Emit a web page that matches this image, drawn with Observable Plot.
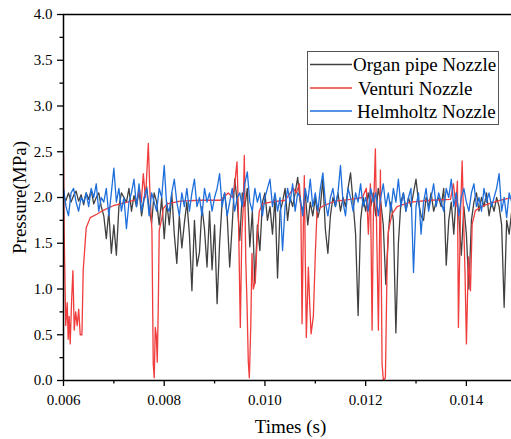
<!DOCTYPE html>
<html>
<head>
<meta charset="utf-8">
<script src="https://cdn.jsdelivr.net/npm/d3@7"></script>
<script src="https://cdn.jsdelivr.net/npm/@observablehq/plot@0.6"></script>
<style>
  html, body { margin: 0; padding: 0; background: #fff; }
</style>
</head>
<body>
<div id="chart"></div>
<script>
// ---- data ----
const seriesNames = ["Organ pipe Nozzle", "Venturi Nozzle", "Helmholtz Nozzle"];
const seriesColors = ["#404040", "#f03c3c", "#1e6fdc"];

const sampleStart = 0.006;   // s
const sampleStep = 0.00005;  // s

const organValues = [
  2.0,1.97,2.05,1.95,2.02,2.07,1.96,2.03,1.92,2.05,1.98,2.08,1.93,2.0,2.05,1.9,
  1.8,1.55,1.85,1.39,1.7,1.37,1.9,2.05,
  2.0,1.95,2.1,1.85,2.02,1.9,2.08,1.8,1.98,2.12,1.88,1.72,2.05,1.95,1.7,2.0,
  1.55,1.95,1.7,2.05,1.6,1.28,1.8,1.45,
  1.72,1.95,1.6,0.98,1.75,1.25,1.4,1.9,1.65,1.24,1.85,1.21,1.7,0.84,1.5,1.95,
  2.05,1.8,1.24,1.7,2.2,1.95,1.53,2.05,1.9,2.1,1.46,1.85,
  1.06,1.7,1.42,1.95,2.05,1.75,1.9,1.6,2.0,1.12,1.85,1.95,2.1,1.75,2.0,
  1.9,2.05,2.22,1.95,1.85,2.05,1.7,1.95,1.8,2.0,1.78,1.9,2.2,
  1.65,1.39,1.8,2.0,1.9,2.05,1.85,
  2.0,1.9,2.1,2.27,1.95,1.6,0.71,1.75,2.0,1.85,2.05,
  1.9,2.05,1.8,2.1,1.95,1.7,1.05,1.6,1.95,1.75,0.52,1.5,
  1.95,2.05,1.85,2.0,1.9,2.05,2.2,1.95,1.8,1.75,2.0,1.9,2.05,1.85,1.95,
  2.0,1.9,2.1,1.26,1.75,1.95,1.6,2.05,1.8,1.37,1.9,1.6,
  1.0,1.75,1.95,2.05,1.85,2.0,1.9,2.05,1.8,1.95,1.85,2.0,1.9,1.7,0.8,1.75,1.6,1.85
];

const helmholtzValues = [
  2.1,1.9,1.8,2.05,2.1,1.95,1.85,2.0,1.95,2.05,
  1.9,2.1,2.0,2.15,1.85,2.0,1.95,2.1,1.8,2.05,
  2.32,1.95,2.1,1.85,2.0,1.66,1.95,2.05,2.2,1.9,
  2.15,1.85,2.0,2.1,1.8,2.05,1.95,1.85,2.1,2.0,
  2.35,1.9,1.85,2.05,2.2,1.95,1.8,2.05,1.9,2.1,
  1.85,2.05,2.2,1.9,2.0,1.8,2.1,1.95,2.05,1.85,
  2.0,2.1,2.26,1.9,2.05,1.8,1.95,2.1,1.85,2.0,
  2.05,1.9,2.15,2.28,1.95,1.85,2.1,1.95,2.05,1.8,
  2.0,2.1,2.2,1.9,2.05,1.85,2.0,1.42,1.9,2.1,
  1.95,2.15,1.85,2.05,2.0,1.8,2.1,1.95,2.2,1.9,
  2.05,1.85,2.1,2.27,1.95,1.8,2.0,2.1,1.9,2.05,
  2.35,1.95,1.8,2.1,2.0,1.85,2.05,1.95,2.15,1.9,
  2.0,1.85,2.1,1.95,2.05,1.8,2.0,2.15,1.9,2.05,
  1.85,2.1,1.95,2.2,1.9,2.05,1.85,2.0,2.1,1.18,
  1.9,2.05,1.6,1.95,2.1,1.85,2.0,2.15,1.9,2.05,
  1.95,1.85,2.1,2.0,2.2,1.9,2.05,1.8,2.0,2.1,
  1.95,1.85,2.05,2.15,1.9,2.0,1.85,2.1,1.95,2.05,
  1.9,2.0,2.1,2.26,1.85,2.0,1.78,2.05,1.95
];

const venturiTimes = [
  0.006000,0.006014,0.006044,0.006074,0.006093,0.006113,0.006133,0.006163,0.006187,0.006213,
  0.006242,0.006272,0.006302,0.006332,0.006366,0.006391,0.006451,0.006531,0.006670,0.006789,
  0.006987,0.007266,0.007467,0.007505,0.007545,0.007585,0.007625,0.007644,0.007684,0.007713,
  0.007756,0.007782,0.007802,0.007822,0.007842,0.007862,0.007882,0.007901,0.007955,0.007981,
  0.008061,0.008319,0.008716,0.009113,0.009272,0.009352,0.009392,0.009445,0.009471,0.009511,
  0.009541,0.009570,0.009590,0.009620,0.009644,0.009670,0.009690,0.009719,0.009743,0.009769,
  0.009809,0.009849,0.009888,0.009948,0.010107,0.010405,0.010564,0.010624,0.010683,0.010713,
  0.010737,0.010763,0.010782,0.010802,0.010822,0.010862,0.010892,0.010916,0.010961,0.011001,
  0.011035,0.011160,0.011398,0.011696,0.011935,0.012014,0.012054,0.012094,0.012128,0.012153,
  0.012193,0.012223,0.012253,0.012293,0.012326,0.012352,0.012392,0.012426,0.012452,0.012525,
  0.012624,0.012889,0.013286,0.013684,0.013743,0.013793,0.013822,0.013842,0.013882,0.013916,
  0.013942,0.013972,0.014001,0.014041,0.014081,0.014115,0.014180,0.014379,0.014677,0.014896
];
const venturiValues = [
  2.47,1.6,0.6,0.85,0.45,0.7,0.4,0.9,1.2,0.55,
  0.75,0.6,0.78,0.5,0.5,1.2,1.67,1.78,1.82,1.86,
  1.91,1.95,1.98,2.1,1.95,2.26,2.0,2.15,2.59,2.1,
  1.64,0.18,0.03,0.58,0.5,0.2,0.8,1.64,1.78,1.88,
  1.93,1.96,1.97,1.97,2.05,2.0,2.1,2.39,1.9,0.58,
  1.6,1.9,2.46,1.3,0.84,0.2,0.03,0.6,1.39,1.0,
  1.09,1.6,1.85,1.93,1.95,1.97,2.1,2.05,2.15,1.9,
  0.62,1.7,2.24,1.3,0.47,1.24,0.8,0.51,0.7,1.39,
  1.86,1.91,1.96,1.98,2.0,2.1,1.6,2.15,0.55,1.8,
  2.53,1.5,0.55,2.3,0.18,0.0,0.03,1.28,1.64,1.82,
  1.9,1.95,1.97,1.98,2.15,1.9,2.18,0.58,1.8,2.4,
  1.82,1.2,0.4,1.35,0.98,1.71,1.86,1.92,1.97,2.0
];

const xDomain = [0.006, 0.014896];
const yDomain = [0, 4];
const xMajorTicks = [0.006, 0.008, 0.010, 0.012, 0.014];
const xMinorTicks = [0.007, 0.009, 0.011, 0.013];
const yMajorTicks = [0, 0.5, 1.0, 1.5, 2.0, 2.5, 3.0, 3.5, 4.0];
const yMinorTicks = [0.25, 0.75, 1.25, 1.75, 2.25, 2.75, 3.25, 3.75];
const xLabel = "Times (s)";
const yLabel = "Pressure(MPa)";

// ---- tables ----
const organ = organValues.map((v, i) => ({t: sampleStart + i * sampleStep, v}));
const helmholtz = helmholtzValues.map((v, i) => ({t: sampleStart + i * sampleStep, v}));
const venturi = venturiTimes.map((t, i) => ({t, v: venturiValues[i]}));

const font = "'Liberation Serif', 'Times New Roman', serif";

const chart = Plot.plot({
  width: 511,
  height: 439,
  marginLeft: 63,
  marginRight: 0,
  marginTop: 14,
  marginBottom: 59,
  style: {fontFamily: font, fontSize: "15px", background: "white", color: "black"},
  x: {domain: xDomain},
  y: {domain: yDomain},
  marks: [
    Plot.lineY(organ, {x: "t", y: "v", stroke: seriesColors[0], strokeWidth: 1.3, clip: true}),
    Plot.lineY(venturi, {x: "t", y: "v", stroke: seriesColors[1], strokeWidth: 1.3, clip: true}),
    Plot.lineY(helmholtz, {x: "t", y: "v", stroke: seriesColors[2], strokeWidth: 1.3, clip: true}),
    Plot.axisX({ticks: xMajorTicks, tickSize: 6, tickPadding: 8, tickFormat: d3.format(".3f"), label: null, strokeWidth: 1.3, fontSize: 15}),
    Plot.axisX({ticks: xMinorTicks, tickSize: 3.5, tickFormat: () => "", label: null, strokeWidth: 1.3}),
    Plot.axisY({ticks: yMajorTicks, tickSize: 6, tickPadding: 5, tickFormat: d3.format(".1f"), label: null, strokeWidth: 1.3, fontSize: 15}),
    Plot.axisY({ticks: yMinorTicks, tickSize: 3.5, tickFormat: () => "", label: null, strokeWidth: 1.3}),
    Plot.ruleY([yDomain[0]], {stroke: "black", strokeWidth: 1.5}),
    Plot.ruleY([yDomain[1]], {stroke: "black", strokeWidth: 1.3}),
    Plot.ruleX([xDomain[0]], {stroke: "black", strokeWidth: 1.5}),
    Plot.text([xLabel], {frameAnchor: "bottom", dx: 3, dy: 46, lineAnchor: "middle", textAnchor: "middle", fontSize: 19, fill: "black"}),
    Plot.text([yLabel], {frameAnchor: "left", dx: -44, rotate: -90, lineAnchor: "middle", textAnchor: "middle", fontSize: 19, fill: "black"})
  ]
});

// ---- legend ----
const svg = d3.select(chart);
const lg = svg.append("g").attr("font-family", font).attr("font-size", 19).attr("text-anchor", "start");
lg.append("rect")
  .attr("x", 307.5).attr("y", 51.5).attr("width", 191).attr("height", 73)
  .attr("fill", "white").attr("stroke", "#555").attr("stroke-width", 1);
const rowY = [64.5, 88, 111];
const textX = [353, 358, 357];
seriesNames.forEach((name, i) => {
  lg.append("line")
    .attr("x1", 310).attr("x2", 352).attr("y1", rowY[i]).attr("y2", rowY[i])
    .attr("stroke", seriesColors[i]).attr("stroke-width", 1.5);
  lg.append("text")
    .attr("x", textX[i]).attr("y", rowY[i] + 6.5)
    .attr("text-anchor", "start")
    .attr("fill", "black")
    .text(name);
});

document.getElementById("chart").appendChild(chart);
</script>
</body>
</html>
